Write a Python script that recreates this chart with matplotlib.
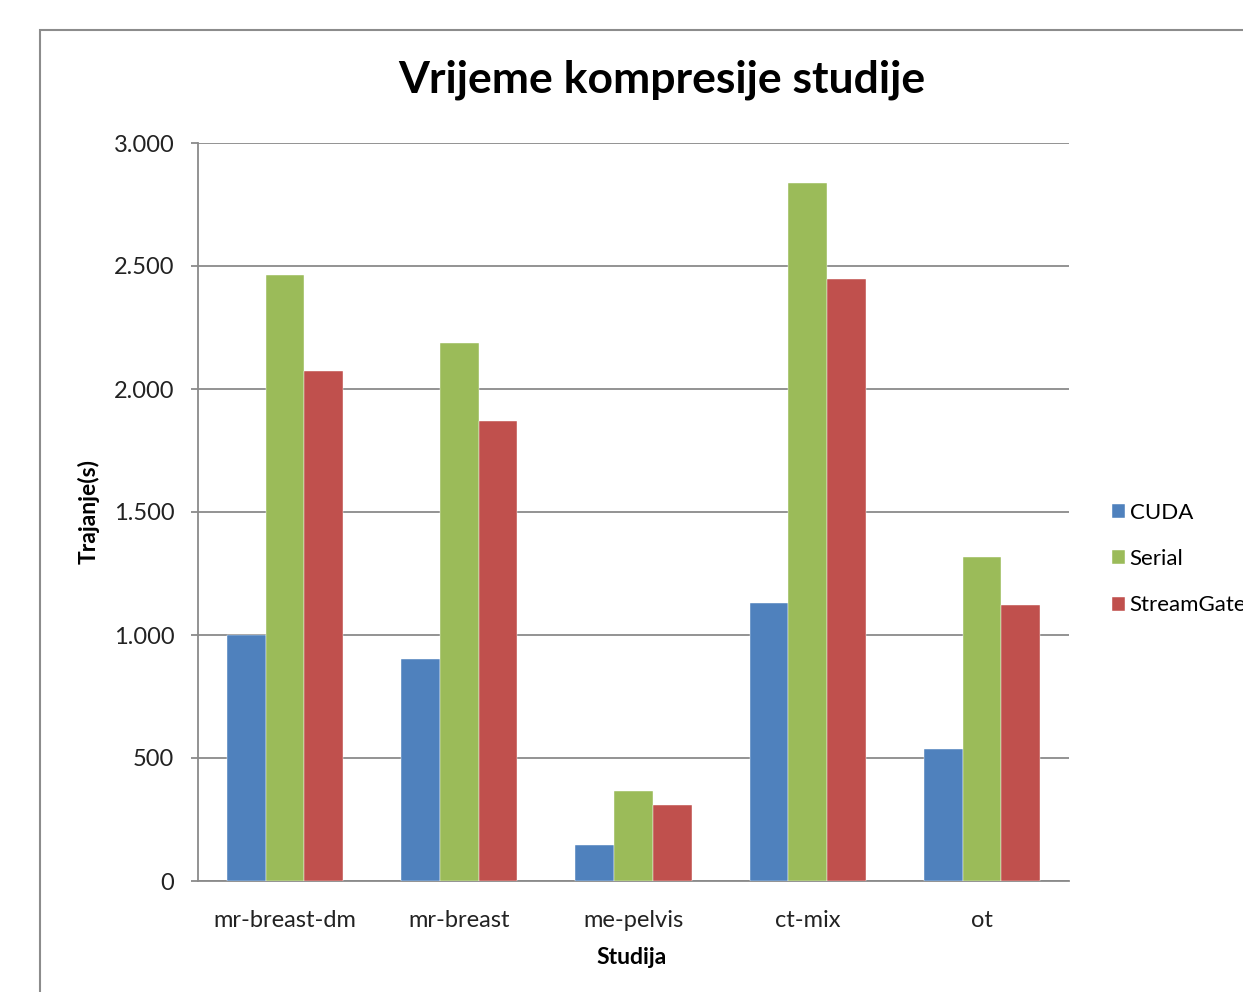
import matplotlib as mpl
mpl.use('Agg')

import matplotlib.pyplot as plt
import numpy as np
from matplotlib.patches import Rectangle
from matplotlib.ticker import FuncFormatter, MultipleLocator

plt.rcParams['font.family'] = ['Lato', 'DejaVu Sans']

# data
studies = ['mr-breast-dm', 'mr-breast', 'me-pelvis', 'ct-mix', 'ot']
series = ['CUDA', 'Serial', 'StreamGate']
cuda = [1000, 902, 146, 1130, 537]
serial = [2463, 2187, 366, 2837, 1317]
streamgate = [2073, 1870, 309, 2447, 1122]
colors = ['#4F81BD', '#9BBB59', '#C0504D']

W, H = 1243, 992
fig = plt.figure(figsize=(W / 100, H / 100), dpi=100)
ax = fig.add_axes([198 / W, 1 - 881 / H, (1069 - 198) / W, (881 - 143) / H])

x = np.arange(len(studies))
bw = 0.222
for i, (vals, name) in enumerate(zip([cuda, serial, streamgate], series)):
    ax.bar(x + (i - 1) * bw, vals, bw, color=colors[i], label=name, zorder=3,
           edgecolor='white', linewidth=0.3)

ax.set_xlim(-0.5, len(studies) - 0.5)
ax.set_ylim(0, 3000)
ax.yaxis.set_major_locator(MultipleLocator(500))
ax.yaxis.set_major_formatter(FuncFormatter(lambda v, p: f'{int(v):,}'.replace(',', '.')))
ax.grid(axis='y', color='#8a8a8a', linewidth=1.3, zorder=0)
ax.set_xticks(x)
ax.set_xticklabels(studies, fontsize=17, color='#222222')
ax.tick_params(axis='x', length=0, pad=21)
ax.tick_params(axis='y', length=5, width=1.3, color='#8a8a8a', labelsize=17,
               labelcolor='#222222', pad=12)
for s in ['top', 'right']:
    ax.spines[s].set_visible(False)
for s in ['left', 'bottom']:
    ax.spines[s].set_color('#8a8a8a')
    ax.spines[s].set_linewidth(1.3)

fig.text(662 / W, 1 - 80 / H, 'Vrijeme kompresije studije', ha='center', va='center',
         fontsize=32, fontweight='bold')
fig.text(632 / W, 1 - 957 / H, 'Studija', ha='center', va='center',
         fontsize=16.5, fontweight='bold')
fig.text(89 / W, 1 - 512 / H, 'Trajanje(s)', ha='center', va='center',
         fontsize=16.5, fontweight='bold', rotation=90)

# legend on the right, runs off the edge like the source
fig.legend(loc='upper left', bbox_to_anchor=(1092 / W, 1 - 483 / H), frameon=False,
           fontsize=16, handlelength=0.6, handleheight=0.6, handletextpad=0.2,
           labelspacing=1.18)

# outer chart border
fig.patches.append(Rectangle((40 / W, -0.1), 2, 1 - 30 / H + 0.1, transform=fig.transFigure,
                             fill=False, edgecolor='#8c8c8c', linewidth=1.5))

plt.savefig('out.png', dpi=100)
